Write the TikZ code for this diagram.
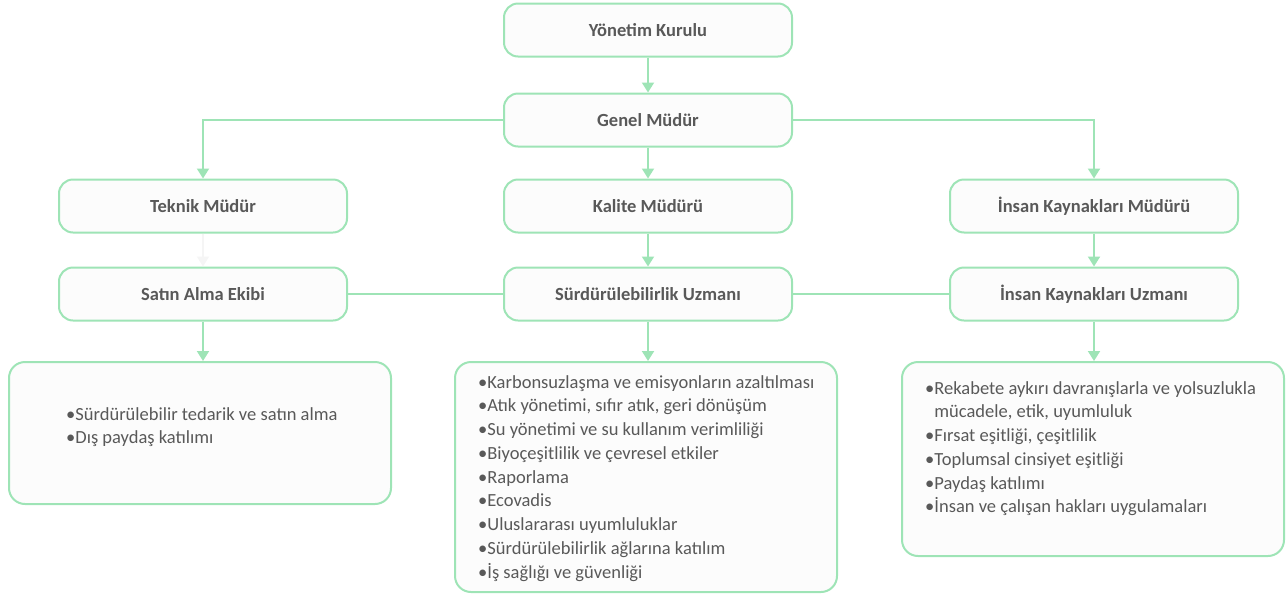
\documentclass[tikz,border=0pt]{standalone}
\usepackage{fontspec}
\setmainfont{Carlito}
\usetikzlibrary{arrows.meta, positioning}
\definecolor{kenar}{RGB}{158,228,182}
\definecolor{yazi}{RGB}{89,89,89}

\begin{document}
\begin{tikzpicture}[x=1pt, y=-1pt,
        unvan/.style={rectangle, rounded corners=14pt, draw=kenar, line width=2pt, fill=black!1, minimum width=288pt, minimum height=53pt, font=\fontsize{18.5}{22}\selectfont\bfseries, text=yazi},
        gorevkutu/.style={rectangle, rounded corners=16pt, draw=kenar, line width=2pt, fill=black!1, minimum width=382pt},
        maddeler/.style={align=left, inner sep=0pt, anchor=north west, font=\fontsize{18.5}{23.75}\selectfont, text=yazi},
        ok/.style={-{Triangle[width=12pt,length=10pt]}, draw=kenar, line width=2pt},
        cizgi/.style={draw=kenar, line width=2pt}
    ]
        \useasboundingbox (0,0) rectangle (1288,595);

        % Yonetim
        \node[unvan] (kurul) at (648,30) {Yönetim Kurulu};
        \node[unvan] (genel) at (648,120) {Genel Müdür};

        % Mudurler
        \node[unvan] (teknik) at (203,206) {Teknik Müdür};
        \node[unvan] (kalite) at (648,206) {Kalite Müdürü};
        \node[unvan] (ikmudur) at (1094,206) {İnsan Kaynakları Müdürü};

        % Uzmanlar
        \node[unvan] (satinalma) at (203,294) {Satın Alma Ekibi};
        \node[unvan] (surdurulebilirlik) at (648,294) {Sürdürülebilirlik Uzmanı};
        \node[unvan] (ikuzman) at (1094,294) {İnsan Kaynakları Uzmanı};

        % Gorev kutulari
        \node[gorevkutu, minimum height=142pt] (satinliste) at (200,433) {};
        \node[gorevkutu, minimum height=230pt] (kaliteliste) at (646,477) {};
        \node[gorevkutu, minimum height=194pt] (ikliste) at (1093,459) {};

        \node[maddeler] (satinmaddeler) at (66,407) {\textbullet Sürdürülebilir tedarik ve satın alma\\
            \textbullet Dış paydaş katılımı};
        \node[maddeler] (kalitemaddeler) at (478,375) {\textbullet Karbonsuzlaşma ve emisyonların azaltılması\\
            \textbullet Atık yönetimi, sıfır atık, geri dönüşüm\\
            \textbullet Su yönetimi ve su kullanım verimliliği\\
            \textbullet Biyoçeşitlilik ve çevresel etkiler\\
            \textbullet Raporlama\\
            \textbullet Ecovadis\\
            \textbullet Uluslararası uyumluluklar\\
            \textbullet Sürdürülebilirlik ağlarına katılım\\
            \textbullet İş sağlığı ve güvenliği};
        \node[maddeler] (ikmaddeler) at (925,381) {\textbullet Rekabete aykırı davranışlarla ve yolsuzlukla\\
            \phantom{\textbullet}mücadele, etik, uyumluluk\\
            \textbullet Fırsat eşitliği, çeşitlilik\\
            \textbullet Toplumsal cinsiyet eşitliği\\
            \textbullet Paydaş katılımı\\
            \textbullet İnsan ve çalışan hakları uygulamaları};

        % Baglantilar
        \draw[ok] (kurul) -- (genel);
        \draw[ok] (genel) -- (kalite);
        \draw[ok] (genel.west) -| (teknik.north);
        \draw[ok] (genel.east) -| (ikmudur.north);
        \draw[ok, draw=black!4] (teknik) -- (satinalma);
        \draw[ok] (kalite) -- (surdurulebilirlik);
        \draw[ok] (ikmudur) -- (ikuzman);
        \draw[cizgi] (satinalma) -- (surdurulebilirlik);
        \draw[cizgi] (surdurulebilirlik) -- (ikuzman);
        \draw[ok] (satinalma.south) -- (satinalma.south |- satinliste.north);
        \draw[ok] (surdurulebilirlik.south) -- (surdurulebilirlik.south |- kaliteliste.north);
        \draw[ok] (ikuzman.south) -- (ikuzman.south |- ikliste.north);
    \end{tikzpicture}
\end{document}
